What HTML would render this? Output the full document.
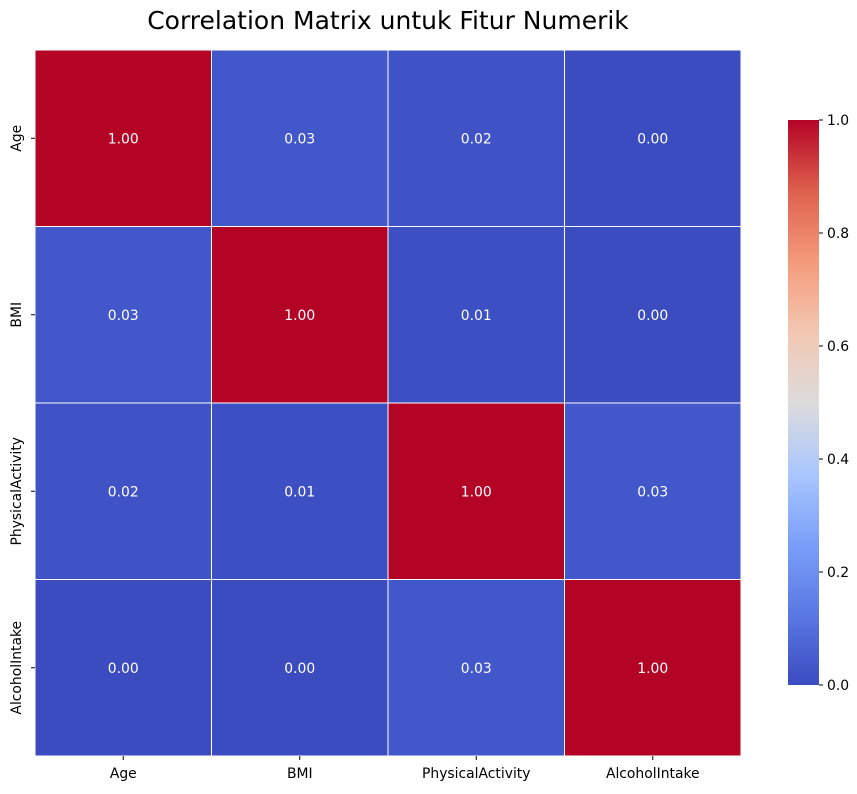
<!DOCTYPE html>
<html><head><meta charset="utf-8"><style>
body{margin:0;background:#fff;font-family:"DejaVu Sans","Liberation Sans",sans-serif}
</style></head><body>
<svg id="chart" width="857" height="790" xmlns="http://www.w3.org/2000/svg" font-family="DejaVu Sans, Liberation Sans, sans-serif">
<defs><linearGradient id="cg" x1="0" y1="1" x2="0" y2="0"></linearGradient></defs>
<text x="388" y="29" text-anchor="middle" font-size="25" fill="#000">Correlation Matrix untuk Fitur Numerik</text>
<g id="cells"></g><g id="axes"></g><g id="cbar"></g>
</svg>
<script>
const labels = ["Age","BMI","PhysicalActivity","AlcoholIntake"];
const row0 = [1.00,0.03,0.02,0.00];
const row1 = [0.03,1.00,0.01,0.00];
const row2 = [0.02,0.01,1.00,0.03];
const row3 = [0.00,0.00,0.03,1.00];
const cbTicks = [0.0,0.2,0.4,0.6,0.8,1.0];
const matrix=[row0,row1,row2,row3];
const NS="http://www.w3.org/2000/svg";
const FS=13.9;
const stops=[[0,"#3b4cc0"],[0.125,"#5a78e4"],[0.25,"#7b9ff9"],[0.375,"#aac7fd"],[0.5,"#dddcdc"],[0.625,"#f3c7b1"],[0.75,"#f49a7b"],[0.875,"#de604d"],[1,"#b40426"]];
function hex(h){return [1,3,5].map(i=>parseInt(h.substr(i,2),16));}
function cmap(v){v=Math.max(0,Math.min(1,v));for(let i=0;i<stops.length-1;i++){const [a,ca]=stops[i],[b,cb]=stops[i+1];if(v<=b){const t=(v-a)/(b-a),A=hex(ca),B=hex(cb);return "rgb("+A.map((x,k)=>Math.round(x+(B[k]-x)*t)).join(",")+")";}}return stops[stops.length-1][1];}
const X0=35,Y0=50,W=706,H=706,n=labels.length,cw=W/n,ch=H/n;
const xs=i=>X0+i*cw, ys=j=>Y0+j*ch;
function mk(tag,attrs,parent){const e=document.createElementNS(NS,tag);for(const k in attrs)e.setAttribute(k,attrs[k]);parent.appendChild(e);return e;}
const cells=document.getElementById("cells"),axes=document.getElementById("axes"),cbar=document.getElementById("cbar");
matrix.forEach((row,j)=>row.forEach((v,i)=>{
 const r=mk("rect",{x:xs(i),y:ys(j),width:cw,height:ch,fill:cmap(v),stroke:"#fff","stroke-width":1},cells);
 
 
 const t=mk("text",{x:xs(i)+cw/2,y:ys(j)+ch/2+5,"text-anchor":"middle","font-size":FS,fill:"#fff"},cells);
 t.textContent=v.toFixed(2);
 
 
}));
labels.forEach((l,i)=>{
 const cx=xs(i)+cw/2;
 mk("line",{x1:cx,y1:Y0+H,x2:cx,y2:Y0+H+4,stroke:"#000"},axes);
 const t=mk("text",{x:cx,y:Y0+H+22,"text-anchor":"middle","font-size":FS},axes);
 t.textContent=l;
 
 
 const cy=ys(i)+ch/2;
 mk("line",{x1:X0-4,y1:cy,x2:X0,y2:cy,stroke:"#000"},axes);
 const t2=mk("text",{x:0,y:0,"text-anchor":"middle","font-size":FS,transform:`translate(21,${cy}) rotate(-90)`},axes);
 t2.textContent=l;
 
 
});
const grad=document.getElementById("cg");
stops.forEach(s=>mk("stop",{offset:s[0],"stop-color":s[1]},grad));
const CX=788,CY=120,CW=31,CH=565;
const cb=mk("rect",{x:CX,y:CY,width:CW,height:CH,fill:"url(#cg)"},cbar);


const cyv=v=>CY+CH-(v*CH);
cbTicks.forEach(v=>{
 mk("line",{x1:CX+CW,y1:cyv(v),x2:CX+CW+4,y2:cyv(v),stroke:"#000"},cbar);
 const t=mk("text",{x:CX+CW+8,y:cyv(v)+5,"font-size":FS},cbar);
 t.textContent=v.toFixed(1);
 
 
});
</script>
</body></html>
